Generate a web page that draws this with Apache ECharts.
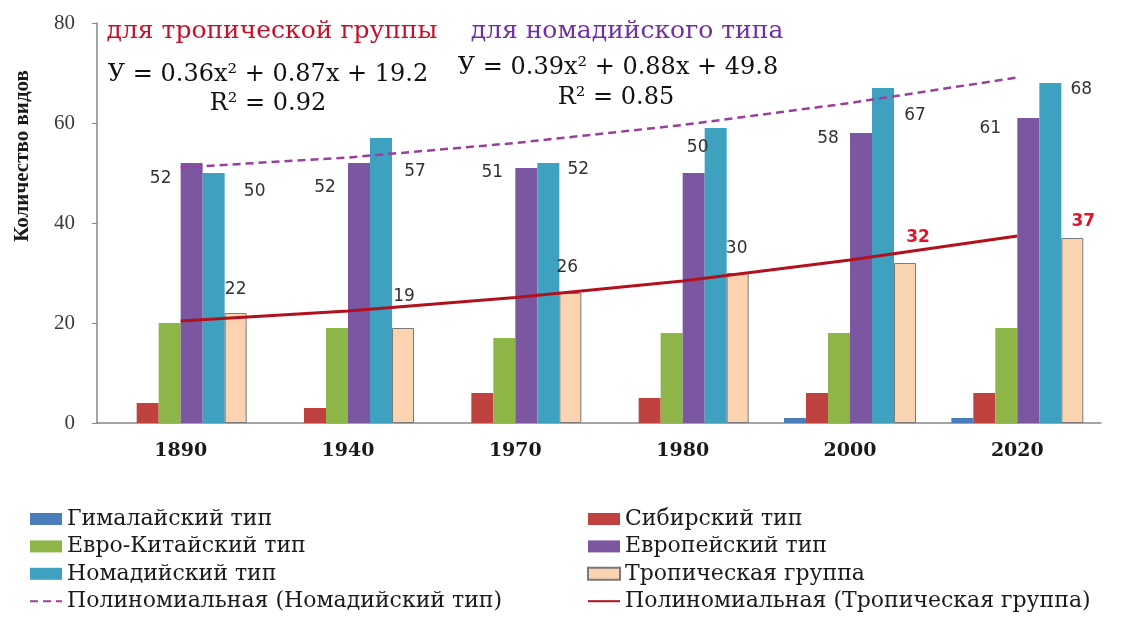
<!DOCTYPE html>
<html>
<head>
<meta charset="utf-8">
<style>
  html, body { margin: 0; padding: 0; background: #fff; }
  #chart { width: 1126px; height: 618px; }
</style>
<script src="https://cdn.jsdelivr.net/npm/echarts@6/dist/echarts.min.js"></script>
</head>
<body>
<div id="chart"></div>
<script>
// years on the x axis
const years = ['1890', '1940', '1970', '1980', '2000', '2020'];

// number of species per group
const himalayan = [0, 0, 0, 0, 1, 1];
const siberian = [4, 3, 6, 5, 6, 6];
const euroChinese = [20, 19, 17, 18, 18, 19];
const european = [52, 52, 51, 50, 58, 61];
const nomadic = [50, 57, 52, 59, 67, 68];
const tropical = [22, 19, 26, 30, 32, 37];

// polynomial trend lines
const nomadicTrend = [51.1, 53.1, 56.0, 59.6, 64.0, 69.1];
const tropicalTrend = [20.4, 22.4, 25.1, 28.4, 32.6, 37.4];

const yMin = 0, yMax = 80, yStep = 20;

// label placement, relative to the bar's top-left corner
const europeanLabelPos = [[-20, 16], [-23, 25], [-23, 5], [15, -25], [-22, 6], [-27, 11]];
const nomadicLabelPos = [[52, 19], [45, 34], [41, 7], null, [43, 28], [42, 7]];
const tropicalLabelPos = [[11, -23], [12, -31], [8, -25], [10, -24], [24, -25], [22, -16]];
const tropicalLabelHot = [false, false, false, false, true, true];

const serif = '"Liberation Serif", "Times New Roman", serif';
const wideSerif = '"DejaVu Serif", serif';
const sans = '"DejaVu Sans", Verdana, sans-serif';

function labelled (values, positions, hot) {
  return values.map((v, i) => {
    const p = positions[i];
    const label = p ? { show: true, position: p } : { show: false };
    if (hot && hot[i]) {
      label.color = '#e0142a';
      label.fontWeight = 'bold';
    }
    return { value: v, label: label };
  });
}

const barLabel = {
  align: 'center',
  verticalAlign: 'middle',
  fontFamily: sans,
  fontSize: 17,
  color: '#333'
};

function bar (name, data, color, extra) {
  return Object.assign({
    name: name,
    type: 'bar',
    data: data,
    barWidth: 22,
    barGap: '0%',
    itemStyle: { color: color },
    label: Object.assign({}, barLabel),
    emphasis: { disabled: true }
  }, extra || {});
}

const legendBase = {
  orient: 'vertical',
  top: 503,
  height: 120,
  itemWidth: 32,
  itemHeight: 12,
  itemGap: 5.4,
  textStyle: { fontFamily: wideSerif, fontSize: 22, color: '#1a1a1a', lineHeight: 22 }
};

const chart = echarts.init(document.getElementById('chart'));

const option = {
  animation: false,
  backgroundColor: '#fff',
  grid: { left: 97, right: 25, top: 23, bottom: 195 },
  xAxis: {
    type: 'category',
    data: years,
    axisLine: { lineStyle: { color: '#868686', width: 1.5 } },
    axisTick: { show: false },
    axisLabel: {
      fontFamily: wideSerif,
      fontWeight: 'bold',
      fontSize: 19,
      color: '#1a1a1a',
      margin: 19
    }
  },
  yAxis: {
    type: 'value',
    min: yMin,
    max: yMax,
    interval: yStep,
    axisLine: { show: true, lineStyle: { color: '#868686', width: 1.5 } },
    axisTick: { show: true, length: 5, lineStyle: { color: '#868686' } },
    splitLine: { show: false },
    axisLabel: {
      fontFamily: serif,
      fontSize: 21,
      color: '#3a3a3a',
      margin: 22
    }
  },
  legend: [
    Object.assign({}, legendBase, {
      left: 24,
      data: [
        { name: 'Гималайский тип', icon: 'rect' },
        { name: 'Евро-Китайский тип', icon: 'rect' },
        { name: 'Номадийский тип', icon: 'rect' },
        { name: 'Полиномиальная (Номадийский тип)', itemStyle: { opacity: 0 } }
      ]
    }),
    Object.assign({}, legendBase, {
      left: 582,
      data: [
        { name: 'Сибирский тип', icon: 'rect' },
        { name: 'Европейский тип', icon: 'rect' },
        { name: 'Тропическая группа', icon: 'rect' },
        { name: 'Полиномиальная (Тропическая группа)', itemStyle: { opacity: 0 } }
      ]
    })
  ],
  graphic: [
    {
      type: 'text', x: 23, y: 156, rotation: Math.PI / 2,
      style: { text: 'Количество видов', font: 'bold 21px ' + serif, fill: '#1a1a1a', align: 'center', verticalAlign: 'middle' }
    },
    {
      type: 'text', x: 272, y: 31,
      style: { text: 'для тропической группы', font: '25px ' + wideSerif, fill: '#c4102a', align: 'center', verticalAlign: 'middle' }
    },
    {
      type: 'text', x: 268, y: 75,
      style: { text: 'У = 0.36x² + 0.87x + 19.2', font: '24px ' + wideSerif, fill: '#111', align: 'center', verticalAlign: 'middle' }
    },
    {
      type: 'text', x: 268, y: 104,
      style: { text: 'R² = 0.92', font: '24px ' + wideSerif, fill: '#111', align: 'center', verticalAlign: 'middle' }
    },
    {
      type: 'text', x: 627, y: 31,
      style: { text: 'для номадийского типа', font: '25px ' + wideSerif, fill: '#7030a0', align: 'center', verticalAlign: 'middle' }
    },
    {
      type: 'text', x: 618, y: 68,
      style: { text: 'У = 0.39x² + 0.88x + 49.8', font: '24px ' + wideSerif, fill: '#111', align: 'center', verticalAlign: 'middle' }
    },
    {
      type: 'text', x: 616, y: 98,
      style: { text: 'R² = 0.85', font: '24px ' + wideSerif, fill: '#111', align: 'center', verticalAlign: 'middle' }
    }
  ],
  series: [
    bar('Гималайский тип', himalayan, '#4a7ebb'),
    bar('Сибирский тип', siberian, '#c0423e'),
    bar('Евро-Китайский тип', euroChinese, '#8db548'),
    bar('Европейский тип', labelled(european, europeanLabelPos), '#7a57a0'),
    bar('Номадийский тип', labelled(nomadic, nomadicLabelPos), '#3fa1c0'),
    bar('Тропическая группа', labelled(tropical, tropicalLabelPos, tropicalLabelHot), '#fcd3b1', {
      itemStyle: { color: '#fcd3b1', borderColor: '#7a7a7a', borderWidth: 1 }
    }),
    {
      name: 'Полиномиальная (Номадийский тип)',
      type: 'line',
      data: nomadicTrend,
      symbol: 'none',
      z: 3,
      lineStyle: { color: '#9a3f9c', width: 2.5, type: [8, 5] },
      itemStyle: { color: '#9a3f9c' },
      emphasis: { disabled: true }
    },
    {
      name: 'Полиномиальная (Тропическая группа)',
      type: 'line',
      data: tropicalTrend,
      symbol: 'none',
      z: 3,
      lineStyle: { color: '#b3101e', width: 3 },
      itemStyle: { color: '#b3101e' },
      emphasis: { disabled: true }
    }
  ]
};

chart.setOption(option);
window.addEventListener('resize', () => chart.resize());
</script>
</body>
</html>
